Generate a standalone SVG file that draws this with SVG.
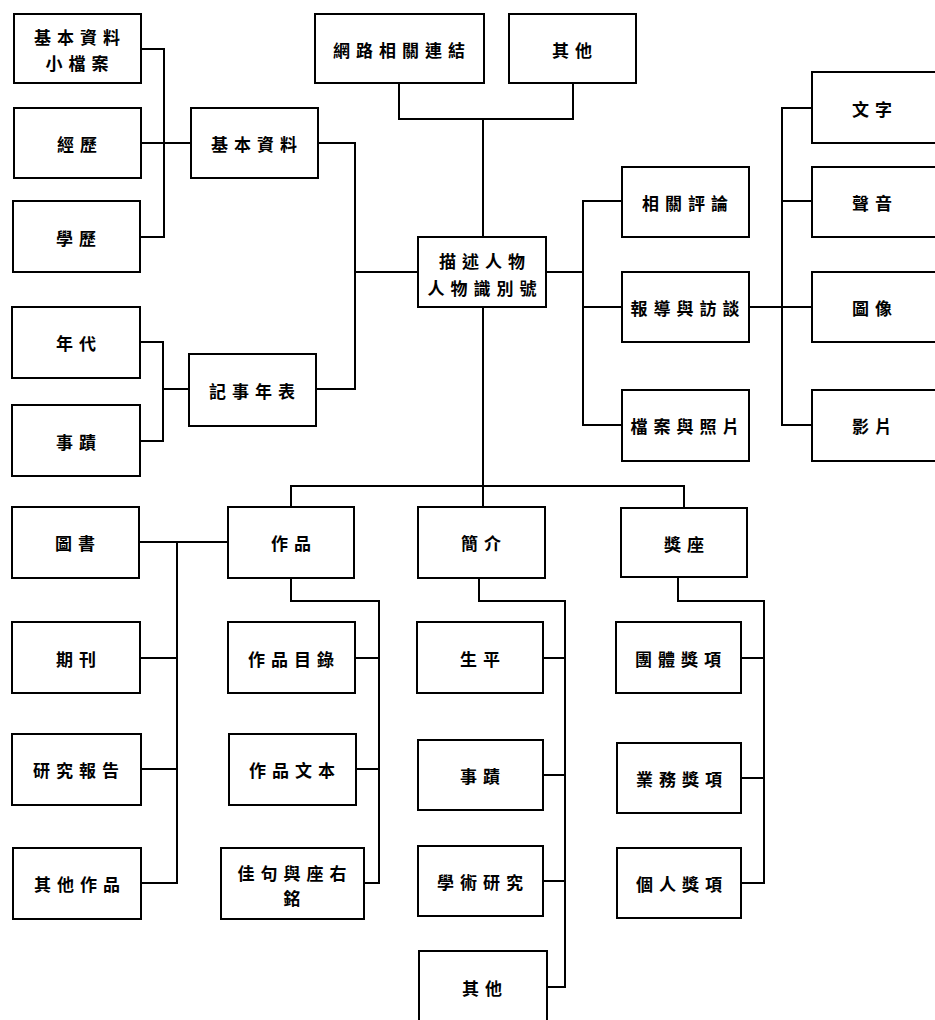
<svg xmlns="http://www.w3.org/2000/svg" width="935" height="1020" viewBox="0 0 935 1020">
<style>
  .b { fill: #fff; stroke: #000; stroke-width: 2; }
  .t { font-family: "Noto Sans CJK TC", "Noto Sans CJK SC", sans-serif; font-weight: 700; font-size: 17px; letter-spacing: 6px; fill: #000; text-anchor: middle; dominant-baseline: central; }
  .c { fill: none; stroke: #000; stroke-width: 2; }
</style>
<rect width="935" height="1020" fill="#fff"/>
<g id="connectors" class="c">
  <path d="M141,49 H164 V237 H140"/>
  <path d="M141,143 H191"/>
  <path d="M318,143 H355 V389 H316"/>
  <path d="M355,272 H418"/>
  <path d="M140,342 H163 V441 H140"/>
  <path d="M163,389 H189"/>
  <path d="M399,83 V119 H573 V83"/>
  <path d="M483,119 V237"/>
  <path d="M546,272 H583"/>
  <path d="M622,201 H583 V425 H622"/>
  <path d="M583,307 H622"/>
  <path d="M749,307 H812"/>
  <path d="M812,108 H782 V425 H812"/>
  <path d="M782,201 H812"/>
  <path d="M483,307 V507"/>
  <path d="M291,507 V486 H684 V508"/>
  <path d="M139,542 H228"/>
  <path d="M177,542 V883 H141"/>
  <path d="M140,658 H177"/>
  <path d="M141,769 H177"/>
  <path d="M291,578 V601 H379 V883 H364"/>
  <path d="M355,658 H379"/>
  <path d="M356,769 H379"/>
  <path d="M479,578 V601 H565 V987 H547"/>
  <path d="M543,658 H565"/>
  <path d="M543,775 H565"/>
  <path d="M543,881 H565"/>
  <path d="M678,577 V601 H764 V883 H741"/>
  <path d="M741,658 H764"/>
  <path d="M741,778 H764"/>
</g>
<g id="n_xiaodangan"><rect class="b" x="14" y="14" width="127" height="69"/><text class="t" x="80" y="36">基本資料</text><text class="t" x="80" y="62">小檔案</text></g>
<g id="n_jingli"><rect class="b" x="14" y="108" width="127" height="70"/><text class="t" x="80" y="143">經歷</text></g>
<g id="n_xueli"><rect class="b" x="13" y="201" width="127" height="71"/><text class="t" x="79" y="237">學歷</text></g>
<g id="n_jibenziliao"><rect class="b" x="191" y="108" width="127" height="70"/><text class="t" x="257" y="143">基本資料</text></g>
<g id="n_niandai"><rect class="b" x="12" y="307" width="128" height="71"/><text class="t" x="79" y="342">年代</text></g>
<g id="n_shiji"><rect class="b" x="12" y="405" width="128" height="71"/><text class="t" x="79" y="441">事蹟</text></g>
<g id="n_jishinianbiao"><rect class="b" x="189" y="354" width="127" height="72"/><text class="t" x="255" y="390">記事年表</text></g>
<g id="n_wanglu"><rect class="b" x="315" y="14" width="169" height="69"/><text class="t" x="402" y="49">網路相關連結</text></g>
<g id="n_qita_top"><rect class="b" x="509" y="14" width="127" height="69"/><text class="t" x="575" y="49">其他</text></g>
<g id="n_miaoshu"><rect class="b" x="418" y="237" width="128" height="70"/><text class="t" x="485" y="260">描述人物</text><text class="t" x="485" y="287">人物識別號</text></g>
<g id="n_xiangguan"><rect class="b" x="622" y="167" width="127" height="70"/><text class="t" x="688" y="202">相關評論</text></g>
<g id="n_baodao"><rect class="b" x="622" y="272" width="127" height="70"/><text class="t" x="688" y="307">報導與訪談</text></g>
<g id="n_dangan"><rect class="b" x="622" y="390" width="127" height="71"/><text class="t" x="688" y="425">檔案與照片</text></g>
<g id="n_wenzi"><rect class="b" x="812" y="72" width="140" height="71"/><text class="t" x="875" y="108">文字</text></g>
<g id="n_shengyin"><rect class="b" x="812" y="167" width="140" height="70"/><text class="t" x="875" y="202">聲音</text></g>
<g id="n_tuxiang"><rect class="b" x="812" y="272" width="140" height="70"/><text class="t" x="875" y="307">圖像</text></g>
<g id="n_yingpian"><rect class="b" x="812" y="390" width="140" height="71"/><text class="t" x="875" y="425">影片</text></g>
<g id="n_zuopin"><rect class="b" x="228" y="507" width="126" height="71"/><text class="t" x="294" y="542">作品</text></g>
<g id="n_jianjie"><rect class="b" x="418" y="507" width="127" height="71"/><text class="t" x="484" y="542">簡介</text></g>
<g id="n_jiangzuo"><rect class="b" x="621" y="508" width="126" height="69"/><text class="t" x="687" y="543">獎座</text></g>
<g id="n_tushu"><rect class="b" x="12" y="507" width="127" height="71"/><text class="t" x="78" y="542">圖書</text></g>
<g id="n_qikan"><rect class="b" x="12" y="622" width="128" height="71"/><text class="t" x="79" y="658">期刊</text></g>
<g id="n_yanjiu"><rect class="b" x="12" y="734" width="129" height="71"/><text class="t" x="79" y="769">研究報告</text></g>
<g id="n_qitazuopin"><rect class="b" x="13" y="848" width="128" height="71"/><text class="t" x="80" y="883">其他作品</text></g>
<g id="n_mulu"><rect class="b" x="228" y="622" width="127" height="71"/><text class="t" x="294" y="658">作品目錄</text></g>
<g id="n_wenben"><rect class="b" x="229" y="734" width="127" height="71"/><text class="t" x="295" y="769">作品文本</text></g>
<g id="n_jiaju"><rect class="b" x="221" y="848" width="143" height="71"/><text class="t" x="295" y="872">佳句與座右</text><text class="t" x="295" y="897">銘</text></g>
<g id="n_shengping"><rect class="b" x="417" y="622" width="126" height="71"/><text class="t" x="483" y="658">生平</text></g>
<g id="n_shiji2"><rect class="b" x="418" y="740" width="125" height="70"/><text class="t" x="483" y="775">事蹟</text></g>
<g id="n_xueshu"><rect class="b" x="418" y="846" width="125" height="70"/><text class="t" x="483" y="881">學術研究</text></g>
<g id="n_qita_bot"><rect class="b" x="419" y="951" width="128" height="80"/><text class="t" x="485" y="987">其他</text></g>
<g id="n_tuanti"><rect class="b" x="616" y="622" width="125" height="71"/><text class="t" x="681" y="658">團體獎項</text></g>
<g id="n_yewu"><rect class="b" x="617" y="743" width="124" height="70"/><text class="t" x="682" y="778">業務獎項</text></g>
<g id="n_geren"><rect class="b" x="617" y="848" width="124" height="70"/><text class="t" x="682" y="883">個人獎項</text></g>
</svg>
